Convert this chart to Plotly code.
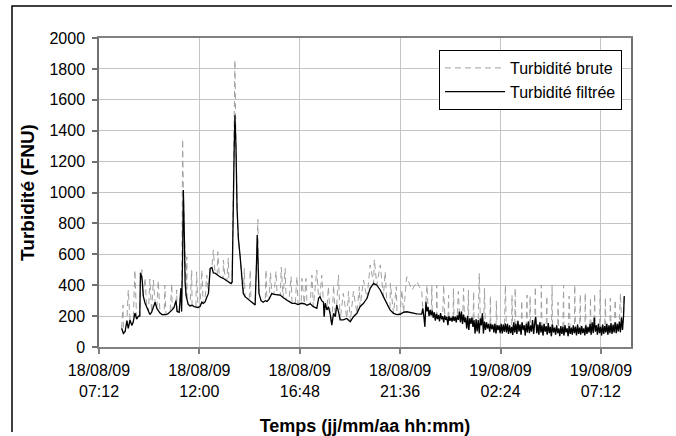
import pandas as pd
import plotly.graph_objects as go

# ---- data: minutes since 18/08/09 00:00 ----
filt_min = [497, 502, 507, 512, 516, 521, 526, 530, 535, 540, 545, 549, 551, 554, 556, 559, 564, 569, 574, 578,
            583, 588, 593, 598, 602, 607, 613, 619, 624, 630, 636, 642, 647, 653, 656, 662, 667, 669, 672, 674,
            677, 679, 682, 685, 688, 693, 699, 705, 710, 716, 722, 727, 731, 736, 741, 746, 751, 756, 760, 765,
            771, 777, 782, 788, 794, 799, 805, 811, 814, 817, 820, 822, 825, 828, 830, 832, 837, 842, 846, 851,
            857, 863, 868, 874, 880, 884, 886, 889, 891, 897, 903, 909, 914, 920, 928, 934, 943, 952, 960, 969,
            977, 986, 995, 1003, 1012, 1021, 1029, 1038, 1047, 1057, 1062, 1066, 1071, 1076, 1078, 1081, 1086,
            1090, 1095, 1100, 1105, 1110, 1114, 1119, 1124, 1133, 1143, 1153, 1162, 1172, 1181, 1191, 1201, 1210,
            1220, 1229, 1239, 1248, 1258, 1267, 1277, 1287, 1296, 1306, 1315, 1330, 1344, 1358,
            1361, 1364, 1367, 1370, 1373, 1376, 1379, 1382, 1385, 1388, 1391, 1394, 1397, 1400, 1403, 1406, 1409,
            1412, 1415, 1418, 1421, 1424, 1427, 1430, 1433, 1436, 1439, 1442, 1445, 1448, 1451, 1454, 1457, 1460,
            1463, 1466, 1469, 1472, 1475, 1478, 1481, 1484, 1487, 1490, 1493, 1496, 1499, 1502, 1505, 1508, 1511,
            1514, 1517, 1520, 1523, 1526, 1529, 1532, 1535, 1538, 1541, 1544, 1547, 1550, 1553, 1556, 1559, 1562,
            1565, 1568, 1571, 1574, 1577, 1580, 1583, 1586, 1589, 1592, 1595, 1598, 1601, 1604, 1607, 1610, 1613,
            1616, 1619,
            1622, 1625, 1628, 1631, 1634, 1637, 1640, 1643, 1646, 1649, 1652, 1655, 1658, 1661, 1664, 1667, 1670,
            1673, 1676, 1679, 1682, 1685, 1688, 1691, 1694, 1697, 1700, 1703, 1706, 1709, 1712, 1715, 1718, 1721,
            1724, 1727, 1730, 1733, 1736, 1739, 1742, 1745, 1748, 1751, 1754, 1757, 1760, 1763, 1766, 1769, 1772,
            1775, 1778, 1781, 1784, 1787, 1790, 1793, 1796, 1799, 1802, 1805, 1808, 1811, 1814, 1817, 1820, 1823,
            1826, 1829, 1832, 1835, 1838, 1841, 1844, 1847, 1850, 1853, 1856, 1859, 1862, 1865, 1868, 1871, 1874,
            1877, 1880, 1883, 1886, 1889, 1892, 1895, 1898, 1901, 1904, 1907, 1910, 1913, 1916, 1919, 1922, 1925,
            1928, 1931, 1934, 1937, 1939]
filt_val = [121, 88, 100, 170, 120, 175, 140, 160, 220, 180, 200, 200, 480, 460, 430, 330, 285, 260, 230, 210,
            225, 260, 290, 250, 235, 220, 210, 208, 210, 215, 225, 240, 255, 300, 230, 225, 380, 230, 600, 1016,
            700, 420, 330, 300, 275, 265, 270, 262, 258, 256, 262, 290, 282, 290, 320, 347, 509, 515, 480, 478,
            468, 455, 450, 445, 435, 430, 415, 410, 420, 1100, 1300, 1500, 1300, 900, 757, 700, 584, 412, 347, 326,
            315, 305, 300, 285, 272, 550, 725, 500, 347, 300, 290, 300, 295, 310, 347, 340, 336, 336, 320, 305,
            295, 283, 282, 275, 283, 280, 270, 280, 261, 250, 315, 326, 300, 290, 196, 283, 240,
            261, 218, 142, 218, 196, 272, 230, 175, 175, 185, 164, 196, 218, 261, 283, 315, 380,
            412, 400, 369, 326, 283, 240, 218, 210, 212, 225, 228, 220, 215, 213,
            250, 200, 132, 293, 230, 260, 200, 240, 205, 235, 190, 225, 170, 215, 180, 207, 165,
            220, 180, 200, 160, 205, 175, 195, 142, 200, 170, 190, 165, 200, 170, 196, 160, 205,
            175, 229, 160, 229, 150, 210, 160, 190, 120, 200, 110, 185, 150, 190, 130, 175, 88,
            180, 100, 175, 88, 185, 140, 218, 88, 164, 110, 160, 120, 150, 100, 152, 115, 145,
            95, 150, 88, 142, 110, 140, 90, 150, 88, 145, 100, 152, 95, 150, 85, 140, 90,
            130, 78,
            160, 95, 150, 85, 170, 100, 145, 80, 160, 110, 140, 75, 150, 95, 165, 90, 140,
            100, 175, 85, 150, 196, 90, 145, 80, 160, 95, 140, 75, 150, 100, 135, 80, 155,
            90, 130, 70, 145, 95, 125, 80, 140, 90, 120, 70, 135, 85, 130, 75, 140, 95,
            120, 70, 135, 85, 125, 80, 140, 90, 130, 75, 145, 85, 125, 80, 135, 90, 120,
            75, 140, 85, 130, 95, 150, 80, 160, 90, 190, 100, 140, 80, 150, 90, 130, 75,
            145, 85, 135, 95, 150, 80, 140, 90, 155, 85, 145, 95, 160, 90, 150, 100, 165,
            95, 190, 110, 200, 330]

spike_min = [501, 516, 535, 555, 564, 578, 588, 602, 621, 641, 655, 672, 684, 698, 712, 727, 741, 760, 773, 789,
             803, 822, 849, 866, 888, 911, 924, 940, 955, 966, 983, 1000, 1014, 1026, 1043, 1057, 1071, 1090, 1105,
             1119, 1133, 1148, 1162, 1179, 1191, 1210, 1222, 1239, 1253, 1268, 1285, 1301, 1315, 1330, 1344, 1358,
             1373, 1387, 1401, 1421, 1435, 1449, 1463, 1478, 1492, 1507, 1523, 1538, 1555, 1572, 1598, 1617, 1626,
             1645, 1660, 1669, 1684, 1701, 1717, 1732, 1749, 1765, 1781, 1797, 1813, 1827, 1842, 1854, 1870, 1885,
             1899, 1913, 1928]
spike_val = [272, 369, 498, 500, 447, 440, 434, 430, 400, 410, 370, 1345, 584, 498, 487, 498, 466, 628, 617, 563,
             576, 1857, 509, 498, 826, 500, 480, 490, 516, 509, 455, 455, 444, 444, 466, 498, 466, 390, 400,
             466, 347, 360, 360, 390, 434, 531, 567, 531, 487, 412, 390, 369, 455, 369, 423, 360,
             401, 401, 401, 401, 336, 380, 360, 380, 369, 360, 477, 380, 330, 300, 401, 336, 382,
             300, 336, 330, 390, 401, 330, 401, 290, 401, 330, 401, 340, 350, 320, 347, 369, 320,
             315, 304, 347]

tick_labels = ["18/08/09<br>07:12", "18/08/09<br>12:00", "18/08/09<br>16:48",
               "18/08/09<br>21:36", "19/08/09<br>02:24", "19/08/09<br>07:12"]
tick_times = ["2009-08-18 07:12", "2009-08-18 12:00", "2009-08-18 16:48",
              "2009-08-18 21:36", "2009-08-19 02:24", "2009-08-19 07:12"]

base = pd.Timestamp("2009-08-18 00:00")
filt = pd.Series(filt_val, index=filt_min, dtype=float)
spk = pd.Series(spike_val, index=spike_min, dtype=float)
brute = pd.concat([filt.drop(index=[m for m in spike_min if m in filt.index]), spk]).sort_index()

def to_t(mins):
    return base + pd.to_timedelta(list(mins), unit="m")

FONT = "Arial, 'Liberation Sans', sans-serif"

fig = go.Figure()
fig.add_trace(go.Scatter(x=to_t(brute.index), y=brute.values, mode="lines", name="Turbidité brute",
                         line=dict(color="#a0a0a0", width=1, dash="6px,4px")))
fig.add_trace(go.Scatter(x=to_t(filt.index), y=filt.values, mode="lines", name="Turbidité filtrée",
                         line=dict(color="#000000", width=1.3)))

L, R, T, B = 99, 631, 38, 347
W, H = 676, 436
pw, ph = R - L, B - T

# outer frame: only its left and top edges fall inside the picture
fx0, fy0 = (12 - L) / pw, (B - 6) / ph
fig.add_shape(type="path", xref="paper", yref="paper",
              path=f"M {fx0},{(B - 432) / ph} L {fx0},{fy0} L {(672 - L) / pw},{fy0}",
              line=dict(color="#000000", width=1.5), layer="above")

fig.update_layout(
    width=W, height=H, margin=dict(l=L, r=W - R, t=T, b=H - B, pad=0),
    paper_bgcolor="white", plot_bgcolor="white",
    font=dict(family=FONT, size=16, color="#000000"),
    showlegend=True,
    legend=dict(x=(622 - L) / pw, y=(B - 50) / ph, xanchor="right", yanchor="top",
                bgcolor="white", bordercolor="#000000", borderwidth=1,
                font=dict(size=16), itemwidth=60, tracegroupgap=0),
    xaxis=dict(type="date", range=["2009-08-18 07:12", "2009-08-19 08:38:24"],
               tickmode="array", tickvals=tick_times, ticktext=tick_labels,
               showgrid=True, gridcolor="#c4c4c4", gridwidth=1,
               showline=True, linecolor="#808080", linewidth=1.5, mirror=True,
               ticks="outside", ticklen=5, tickcolor="#808080", tickwidth=1.5,
               tickfont=dict(size=16), zeroline=False, ticklabelstandoff=3, automargin=False,
               title=dict(text="Temps (jj/mm/aa hh:mm)", font=dict(size=18, weight="bold"), standoff=21)),
    yaxis=dict(range=[0, 2000], dtick=200, tick0=0,
               showgrid=True, gridcolor="#c4c4c4", gridwidth=1,
               showline=True, linecolor="#707070", linewidth=1.5, mirror=True,
               ticks="outside", ticklen=5, tickcolor="#707070", tickwidth=1.5,
               tickfont=dict(size=16), zeroline=False, ticklabelstandoff=4, automargin=False,
               title=dict(text="Turbidité (FNU)", font=dict(size=19, weight="bold"), standoff=10)),
)

fig.write_html("out.html")
